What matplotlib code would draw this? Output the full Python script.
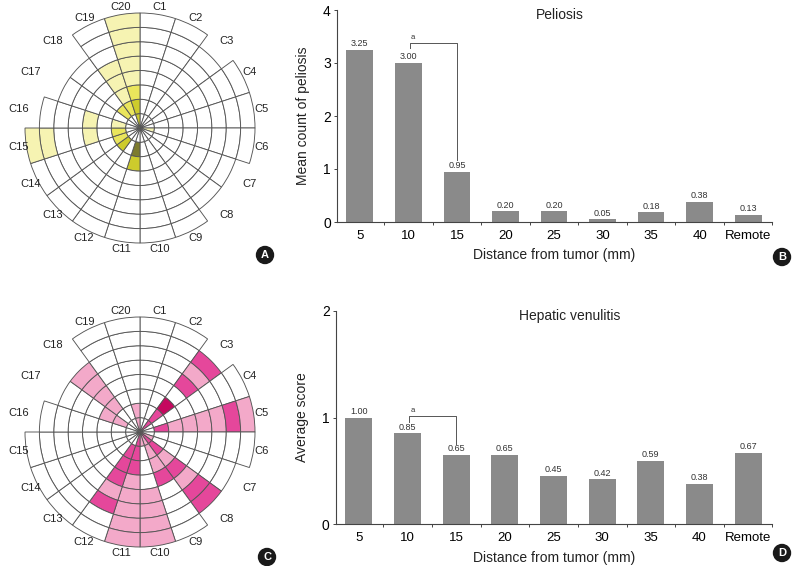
import numpy as np
import matplotlib.pyplot as plt
from matplotlib.patches import Wedge, Circle

plt.rcParams['font.family'] = ['Liberation Sans', 'DejaVu Sans']

# ============================
# DATA
# ============================
cases = [f"C{i}" for i in range(1, 21)]
# number of 5-mm rings sampled for each case (5 ... 40 mm)
n_rings = [8, 8, 7, 8, 8, 8, 7, 7, 8, 8, 8, 8, 8, 8, 8, 7, 6, 6, 8, 8]

# colour level of each ring, innermost first (0 = blank)
peliosis_levels = [
    [0, 0, 0, 0, 0, 0, 0, 0],  # C1
    [0, 0, 0, 0, 0, 0, 0, 0],  # C2
    [0, 0, 0, 0, 0, 0, 0],     # C3
    [0, 0, 0, 0, 0, 0, 0, 0],  # C4
    [0, 0, 0, 0, 0, 0, 0, 0],  # C5
    [1, 0, 0, 0, 0, 0, 0, 0],  # C6
    [0, 0, 0, 0, 0, 0, 0],     # C7
    [0, 0, 0, 0, 0, 0, 0],     # C8
    [0, 0, 0, 0, 0, 0, 0, 0],  # C9
    [0, 0, 0, 0, 0, 0, 0, 0],  # C10
    [0, 4, 3, 0, 0, 0, 0, 0],  # C11
    [0, 0, 0, 0, 0, 0, 0, 0],  # C12
    [0, 3, 0, 0, 0, 0, 0, 0],  # C13
    [0, 2, 0, 0, 0, 0, 0, 0],  # C14
    [0, 2, 0, 1, 0, 0, 1, 1],  # C15
    [0, 1, 0, 1, 0, 0, 0],     # C16
    [0, 0, 0, 0, 0, 0],        # C17
    [0, 2, 0, 0, 0, 0],        # C18
    [0, 2, 1, 1, 1, 0, 0, 0],  # C19
    [3, 3, 2, 1, 1, 1, 1, 1],  # C20
]
venulitis_levels = [
    [0, 0, 0, 0, 0, 0, 0, 0],  # C1
    [0, 0, 0, 0, 0, 0, 0, 0],  # C2
    [2, 2, 3, 0, 2, 1, 2],     # C3
    [0, 0, 0, 0, 0, 0, 0, 0],  # C4
    [0, 2, 1, 1, 1, 1, 2, 1],  # C5
    [0, 0, 0, 0, 0, 0, 0, 0],  # C6
    [1, 0, 0, 0, 0, 0, 0],     # C7
    [2, 2, 1, 2, 1, 2, 2],     # C8
    [1, 1, 1, 2, 0, 0, 0, 0],  # C9
    [1, 0, 0, 0, 1, 1, 1, 1],  # C10
    [2, 2, 2, 1, 1, 1, 1, 1],  # C11
    [0, 2, 2, 2, 1, 2, 0, 0],  # C12
    [0, 0, 0, 0, 0, 0, 0, 0],  # C13
    [0, 0, 0, 0, 0, 0, 0, 0],  # C14
    [0, 0, 0, 0, 0, 0, 0, 0],  # C15
    [0, 0, 0, 0, 0, 0, 0],     # C16
    [0, 1, 1, 0, 0, 0],        # C17
    [0, 0, 1, 1, 1, 1],        # C18
    [0, 0, 0, 0, 0, 0, 0, 0],  # C19
    [1, 1, 0, 0, 0, 0, 0, 0],  # C20
]
yellow_cmap = ["white", "#f6f3b2", "#eae55c", "#cdcb2c", "#7d7b2e"]
pink_cmap = ["white", "#f3a9c9", "#e5479b", "#c5095f"]

distances = ["5", "10", "15", "20", "25", "30", "35", "40", "Remote"]
peliosis_mean = [3.25, 3.00, 0.95, 0.20, 0.20, 0.05, 0.18, 0.38, 0.13]
venulitis_mean = [1.00, 0.85, 0.65, 0.65, 0.45, 0.42, 0.59, 0.38, 0.67]

W, H = 792, 566
fig = plt.figure(figsize=(W / 100, H / 100), dpi=100)

# ============================
# ROSE PANELS
# ============================
R = 115.0
dr = R / 8


def rose(box, cy, levels, colors):
    # box = (x0, y0, x1, y1) in pixels from top-left, centre x=140, y=cy
    x0, y0, x1, y1 = box
    ax = fig.add_axes([x0 / W, 1 - y1 / H, (x1 - x0) / W, (y1 - y0) / H])
    ax.set_xlim(x0 - 140, x1 - 140)
    ax.set_ylim(cy - y1, cy - y0)
    ax.axis("off")
    for i, lv in enumerate(levels):
        t2 = 90 - 18 * i
        t1 = t2 - 18
        for k in range(n_rings[i]):
            ax.add_patch(Wedge((0, 0), (k + 1) * dr, t1, t2, width=dr,
                               facecolor=colors[lv[k]], edgecolor="#555555",
                               linewidth=0.65))
        a = np.deg2rad(t2 - 9)
        ax.text(123 * np.cos(a), 123 * np.sin(a), cases[i], ha="center",
                va="center", fontsize=8, color="#222222")
    return ax


rose((0, 0, 280, 263), 128, peliosis_levels, yellow_cmap)
rose((0, 290, 280, 566), 432, venulitis_levels, pink_cmap)

# ============================
# BAR PANELS
# ============================
def bar_panel(rect, values, ymax, title, title_x, ylabel, bracket):
    ax = fig.add_axes(rect)
    x = np.arange(len(distances))
    ax.bar(x, values, width=0.55, color="#8a8a8a", zorder=2)
    for xi, v in zip(x, values):
        ax.annotate(f"{v:.2f}", (xi, v), xytext=(0, 1.2),
                    textcoords="offset points", ha="center", va="bottom",
                    fontsize=6.5, color="#333333")
    ax.set_xlim(-0.47, 8.49)
    ax.set_ylim(0, ymax)
    ax.set_yticks(range(ymax + 1))
    ax.set_xticks(x)
    ax.set_xticklabels(distances)
    ax.set_xticks(np.append(x[:-1] + 0.5, 8.49), minor=True)
    ax.tick_params(axis="x", which="major", length=0, pad=5.5, labelsize=9.5)
    ax.tick_params(axis="x", which="minor", length=2.5, width=0.7,
                   color="#444444")
    ax.tick_params(axis="y", length=2.5, width=0.7, pad=2, labelsize=10,
                   color="#444444")
    for s in ["top", "right"]:
        ax.spines[s].set_visible(False)
    for s in ["left", "bottom"]:
        ax.spines[s].set_color("#444444")
        ax.spines[s].set_linewidth(0.8)
    ax.text(title_x, 0.975, title, transform=ax.transAxes, ha="center",
            va="center", fontsize=10, color="#222222")
    ax.text(-0.078, 0.5, ylabel, transform=ax.transAxes, rotation=90,
            ha="center", va="center", fontsize=10, color="#222222")
    ax.text(0.5, -0.125, "Distance from tumor (mm)", transform=ax.transAxes,
            ha="center", va="top", fontsize=10, color="#222222")
    # significance bracket between 10 mm and 15 mm
    lo_left, top, lo_right, a_y = bracket
    ax.plot([1.03, 1.03, 2.0, 2.0], [lo_left, top, top, lo_right],
            color="#555555", lw=0.7)
    ax.text(1.1, a_y, "a", ha="center", va="bottom", fontsize=5.5,
            color="#333333")
    return ax


bar_panel([337 / W, 1 - 222 / H, 435 / W, 212 / H], peliosis_mean, 4,
          "Peliosis", 0.513, "Mean count of peliosis", (3.28, 3.38, 1.17, 3.41))
bar_panel([336 / W, 1 - 524 / H, 436 / W, 213 / H], venulitis_mean, 2,
          "Hepatic venulitis", 0.537, "Average score", (0.96, 1.01, 0.75, 1.03))

# ============================
# PANEL BADGES
# ============================
ov = fig.add_axes([0, 0, 1, 1])
ov.set_xlim(0, W)
ov.set_ylim(H, 0)
ov.axis("off")
for letter, bx, by in [("A", 265, 255), ("B", 782, 257),
                       ("C", 267, 557), ("D", 782, 553)]:
    ov.add_patch(Circle((bx, by), 8.5, color="#1a1a1a"))
    ov.text(bx, by + 0.5, letter, ha="center", va="center", color="white",
            fontsize=8, fontweight="bold")

fig.savefig("out.png", dpi=100)
